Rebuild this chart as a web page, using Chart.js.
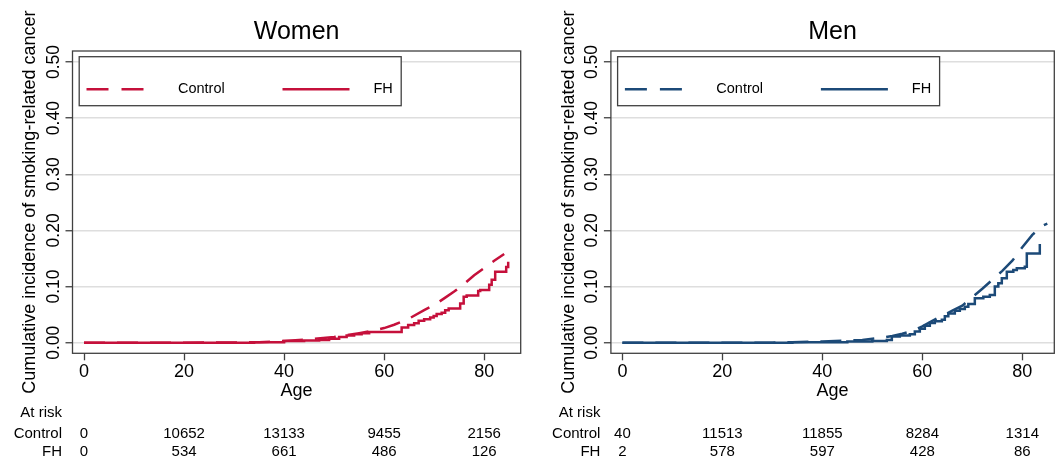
<!DOCTYPE html>
<html>
<head>
<meta charset="utf-8">
<script src="https://cdn.jsdelivr.net/npm/chart.js@4"></script>
<style>
  html, body { margin: 0; padding: 0; background: #fff; }
  #wrap { position: relative; width: 1059px; height: 460px; overflow: hidden; }
  canvas { position: absolute; top: 0; }
  #women { left: 0; }
  #men { left: 530px; }
</style>
</head>
<body>
<div id="wrap">
  <canvas id="women" width="530" height="460"></canvas>
  <canvas id="men" width="529" height="460"></canvas>
</div>
<script>
// --- DATA ---
const xTicks = [0, 20, 40, 60, 80];
const xTickLabels = ['0', '20', '40', '60', '80'];
const yTicks = [0, 0.1, 0.2, 0.3, 0.4, 0.5];
const yTickLabels = ['0.00', '0.10', '0.20', '0.30', '0.40', '0.50'];
const groupLabels = ['Control', 'FH'];

// Women: control (dashed) and FH (step)
const womenCtrlAge = [0, 20, 30, 35, 40, 45, 50, 53, 55, 58, 60, 62, 65, 68, 70, 72, 74, 76, 78, 80, 82, 84];
const womenCtrlCI = [0, 0, 0.0005, 0.001, 0.003, 0.006, 0.010, 0.014, 0.017, 0.022, 0.026, 0.032, 0.043, 0.058, 0.067, 0.079, 0.091, 0.105, 0.120, 0.133, 0.146, 0.158];
const womenFhAge = [0, 34, 40, 44, 47, 49, 51, 52.5, 54, 55.5, 57, 63.5, 64.8, 66, 66.9, 68, 69.2, 69.9, 70.5, 71.5, 72.2, 72.9, 75.2, 75.9, 76.5, 78.8, 79.2, 81, 81.5, 82.2, 84.4, 84.8];
const womenFhCI = [0, 0.001, 0.003, 0.004, 0.005, 0.007, 0.010, 0.013, 0.015, 0.017, 0.019, 0.027, 0.0315, 0.0345, 0.039, 0.0416, 0.045, 0.0476, 0.051, 0.0535, 0.058, 0.061, 0.070, 0.082, 0.084, 0.092, 0.094, 0.103, 0.112, 0.1265, 0.135, 0.144];

// Men
const menCtrlAge = [0, 20, 30, 34, 40, 45, 48, 50, 52, 54, 56, 58, 60, 62, 64, 66, 68, 70, 72, 74, 76, 78, 80, 82, 84, 85];
const menCtrlCI = [0, 0, 0, 0.001, 0.002, 0.004, 0.005, 0.007, 0.009, 0.012, 0.016, 0.021, 0.029, 0.039, 0.048, 0.057, 0.066, 0.081, 0.096, 0.112, 0.128, 0.146, 0.170, 0.192, 0.208, 0.212];
const menFhAge = [0, 34, 45, 50, 52.9, 53.9, 55.5, 57.5, 58.5, 59.5, 60.5, 61.5, 62.5, 63.9, 64.5, 65.2, 66.5, 67.5, 68.5, 69.2, 70.5, 72.2, 73.5, 74.5, 75.2, 75.9, 76.9, 78.2, 78.9, 80.5, 80.9, 83.5];
const menFhCI = [0, 0.001, 0.002, 0.003, 0.005, 0.011, 0.013, 0.015, 0.020, 0.025, 0.030, 0.035, 0.038, 0.041, 0.047, 0.052, 0.057, 0.060, 0.064, 0.069, 0.079, 0.082, 0.085, 0.100, 0.106, 0.115, 0.1265, 0.1295, 0.1325, 0.1354, 0.159, 0.176];

// Numbers at risk
const atRiskAges = [0, 20, 40, 60, 80];
const womenRiskCtrl = [0, 10652, 13133, 9455, 2156];
const womenRiskFh = [0, 534, 661, 486, 126];
const menRiskCtrl = [40, 11513, 11855, 8284, 1314];
const menRiskFh = [2, 578, 597, 428, 86];

// --- HELPERS ---
Chart.defaults.font.family = "'Liberation Sans', Arial, sans-serif";
Chart.defaults.color = '#000';

const toXY = (xs, ys) => xs.map((x, i) => ({ x: x, y: ys[i] }));

// frame, legend box and at-risk table
const extras = {
    id: 'extras',
    afterDraw(chart, args, opts) {
        const { ctx, chartArea: a, scales: { x } } = chart;
        const font = "'Liberation Sans', Arial, sans-serif";
        ctx.save();

        // plot frame
        ctx.strokeStyle = '#404040';
        ctx.lineWidth = 1.3;
        ctx.strokeRect(a.left, a.top, a.right - a.left, a.bottom - a.top);

        // legend
        const lx = a.left + 6.7, ly = a.top + 5.7;
        ctx.fillStyle = '#fff';
        ctx.fillRect(lx, ly, 322, 49);
        ctx.strokeRect(lx, ly, 322, 49);
        const my = a.top + 38.3;
        ctx.strokeStyle = opts.color;
        ctx.lineWidth = 2.4;
        ctx.setLineDash([22, 13]);
        ctx.beginPath();
        ctx.moveTo(a.left + 14, my);
        ctx.lineTo(a.left + 72, my);
        ctx.stroke();
        ctx.setLineDash([]);
        ctx.beginPath();
        ctx.moveTo(a.left + 210, my);
        ctx.lineTo(a.left + 277, my);
        ctx.stroke();
        ctx.fillStyle = '#000';
        ctx.font = '14.5px ' + font;
        ctx.textAlign = 'center';
        ctx.textBaseline = 'middle';
        ctx.fillText(groupLabels[0], a.left + 128.8, my);
        ctx.fillText(groupLabels[1], a.left + 310.6, my);

        // at risk table
        ctx.font = '15px ' + font;
        const labX = a.left - 10.5;
        ctx.textAlign = 'right';
        ctx.fillText('At risk', labX, 412.5);
        ctx.fillText(groupLabels[0], labX, 433.5);
        ctx.fillText(groupLabels[1], labX, 451.5);
        ctx.textAlign = 'center';
        atRiskAges.forEach((age, i) => {
            const px = x.getPixelForValue(age);
            ctx.fillText(String(opts.ctrl[i]), px, 433.5);
            ctx.fillText(String(opts.fh[i]), px, 451.5);
        });
        ctx.restore();
    }
};

function buildChart(id, o) {
    return new Chart(document.getElementById(id), {
        type: 'line',
        data: {
            datasets: [
                {
                    label: groupLabels[0],
                    data: toXY(o.ctrlAge, o.ctrlCI),
                    borderColor: o.color,
                    borderWidth: 2.5,
                    borderDash: [21, 12],
                    pointRadius: 0,
                    tension: 0,
                    fill: false
                },
                {
                    label: groupLabels[1],
                    data: toXY(o.fhAge, o.fhCI),
                    borderColor: o.color,
                    borderWidth: 2.5,
                    pointRadius: 0,
                    stepped: true,
                    fill: false
                }
            ]
        },
        options: {
            responsive: false,
            animation: false,
            devicePixelRatio: 1,
            layout: { padding: { left: o.padLeft, right: o.padRight, top: 0, bottom: 58 } },
            plugins: {
                legend: { display: false },
                tooltip: { enabled: false },
                title: {
                    display: true,
                    text: o.title,
                    fullSize: false,
                    color: '#000',
                    font: { size: 25, weight: 'normal' },
                    padding: { top: 17, bottom: 4 }
                },
                extras: { color: o.color, ctrl: o.riskCtrl, fh: o.riskFh }
            },
            scales: {
                x: {
                    type: 'linear',
                    min: -2.3,
                    max: o.xMax,
                    afterBuildTicks: s => { s.ticks = xTicks.map(v => ({ value: v })); },
                    afterFit: s => { s.height = 48.7; },
                    ticks: { font: { size: 18 }, color: '#000', padding: 1, maxRotation: 0, callback: (v, i) => xTickLabels[i] },
                    grid: { drawOnChartArea: false, tickLength: 7, tickColor: '#404040', tickWidth: 1.3 },
                    border: { display: false },
                    title: { display: true, text: 'Age', color: '#000', font: { size: 18 }, padding: { top: 0, bottom: 0 } }
                },
                y: {
                    min: -0.0189,
                    max: 0.5196,
                    afterBuildTicks: s => { s.ticks = yTicks.map(v => ({ value: v })); },
                    afterFit: s => { s.width = 72.5; },
                    ticks: {
                        minRotation: 90, maxRotation: 90, crossAlign: 'center', padding: -5.5,
                        font: { size: 17.5 }, color: '#000',
                        callback: (v, i) => yTickLabels[i]
                    },
                    grid: { color: '#dedede', lineWidth: 1.5, tickLength: 7, tickColor: '#404040', tickWidth: 1.3 },
                    border: { display: false },
                    title: {
                        display: true,
                        text: 'Cumulative incidence of smoking-related cancer',
                        color: '#000',
                        font: { size: 18 },
                        padding: { top: 19.5, bottom: 0 }
                    }
                }
            }
        },
        plugins: [extras]
    });
}

buildChart('women', {
    title: 'Women', color: '#c5103b',
    ctrlAge: womenCtrlAge, ctrlCI: womenCtrlCI, fhAge: womenFhAge, fhCI: womenFhCI,
    riskCtrl: womenRiskCtrl, riskFh: womenRiskFh,
    padLeft: 0, padRight: 9.3, xMax: 87.3
});

buildChart('men', {
    title: 'Men', color: '#1c4a78',
    ctrlAge: menCtrlAge, ctrlCI: menCtrlCI, fhAge: menFhAge, fhCI: menFhCI,
    riskCtrl: menRiskCtrl, riskFh: menRiskFh,
    padLeft: 8.4, padRight: 4.7, xMax: 86.4
});
</script>
</body>
</html>
